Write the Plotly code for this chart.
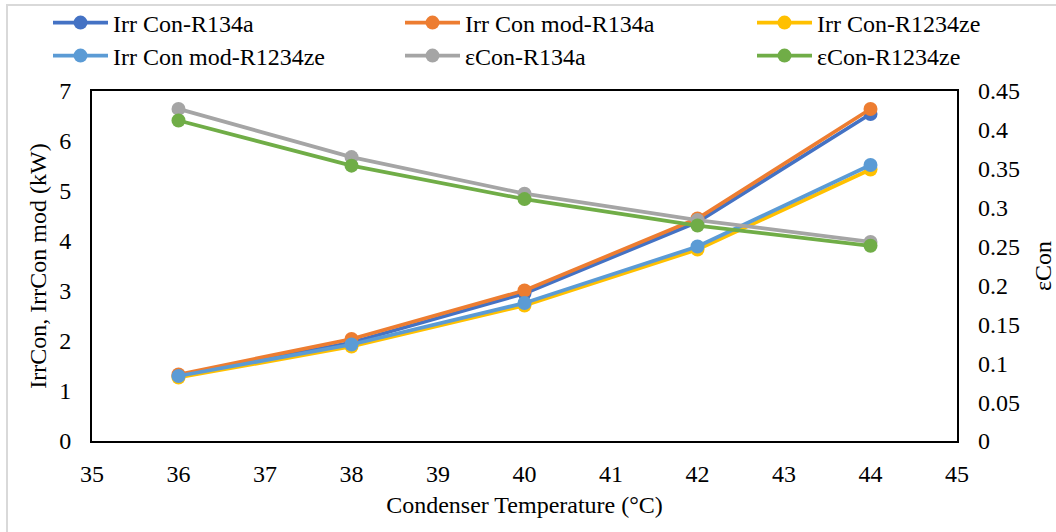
import plotly.graph_objects as go

temps = [36, 38, 40, 42, 44]
irr_con_r134a = [1.30, 1.97, 2.95, 4.38, 6.54]
irr_con_mod_r134a = [1.33, 2.04, 3.01, 4.45, 6.64]
irr_con_r1234ze = [1.27, 1.89, 2.71, 3.83, 5.43]
irr_con_mod_r1234ze = [1.30, 1.93, 2.76, 3.89, 5.52]
eps_con_r134a = [0.427, 0.365, 0.318, 0.284, 0.256]
eps_con_r1234ze = [0.412, 0.354, 0.311, 0.277, 0.251]

FONT = "Liberation Serif, Times New Roman, serif"

series = [
    ("Irr Con-R134a", irr_con_r134a, "#4472C4", "y"),
    ("Irr Con mod-R134a", irr_con_mod_r134a, "#ED7D31", "y"),
    ("Irr Con-R1234ze", irr_con_r1234ze, "#FFC000", "y"),
    ("Irr Con mod-R1234ze", irr_con_mod_r1234ze, "#5B9BD5", "y"),
    ("εCon-R134a", eps_con_r134a, "#A5A5A5", "y2"),
    ("εCon-R1234ze", eps_con_r1234ze, "#70AD47", "y2"),
]

# legend grid: 3 columns x 2 rows (column left edges in px, row centres in px)
col_x = [48, 400, 752]
row_y = [23, 56]

fig = go.Figure()
legends = {}
for i, (name, vals, color, yax) in enumerate(series):
    lid = "legend" if i == 0 else f"legend{i + 1}"
    fig.add_trace(go.Scatter(
        x=temps, y=vals, name=name, yaxis=yax, legend=lid,
        mode="lines+markers",
        line=dict(color=color, width=3.75),
        marker=dict(color=color, size=14, symbol="circle"),
    ))
    legends[lid] = dict(
        orientation="h", xref="container", yref="container",
        xanchor="left", yanchor="middle",
        x=col_x[i % 3] / 1056, y=1 - row_y[i // 3] / 532,
        font=dict(family=FONT, size=24, color="black"),
        bgcolor="rgba(0,0,0,0)", borderwidth=0,
        itemwidth=55,
    )

fig.update_layout(
    template="none",
    width=1056, height=532,
    margin=dict(l=92, r=99, t=91, b=91, autoexpand=False),
    paper_bgcolor="white", plot_bgcolor="white",
    font=dict(family=FONT, size=24, color="black"),
    showlegend=True,
    **legends,
    xaxis=dict(
        range=[35, 45], dtick=1, tick0=35,
        showgrid=False, zeroline=False,
        showline=True, linecolor="black", linewidth=2, mirror=True,
        ticks="", ticklabelstandoff=10,
        tickfont=dict(family=FONT, size=24, color="black"),
        title=dict(text="Condenser Temperature (°C)", standoff=10,
                   font=dict(family=FONT, size=24, color="black")),
    ),
    yaxis=dict(
        range=[0, 7], dtick=1,
        showgrid=False, zeroline=False,
        showline=True, linecolor="black", linewidth=2, mirror=True,
        ticks="", ticklabelstandoff=14,
        tickfont=dict(family=FONT, size=24, color="black"),
        title=dict(text="IrrCon, IrrCon mod (kW)", standoff=6,
                   font=dict(family=FONT, size=24, color="black")),
    ),
    yaxis2=dict(
        range=[0, 0.45], dtick=0.05, overlaying="y", side="right",
        showgrid=False, zeroline=False, showline=False,
        ticks="", ticklabelstandoff=20,
        tickfont=dict(family=FONT, size=24, color="black"),
        title=dict(text="εCon", standoff=15,
                   font=dict(family=FONT, size=24, color="black")),
    ),
    shapes=[dict(
        type="rect", xref="paper", yref="paper",
        x0=(7 - 92) / 865, x1=(1070 - 92) / 865,
        y0=(441 - 545) / 350, y1=(441 - 5) / 350,
        line=dict(color="#D9D9D9", width=2), fillcolor="rgba(0,0,0,0)",
        layer="below",
    )],
)

fig.write_html("out.html")
